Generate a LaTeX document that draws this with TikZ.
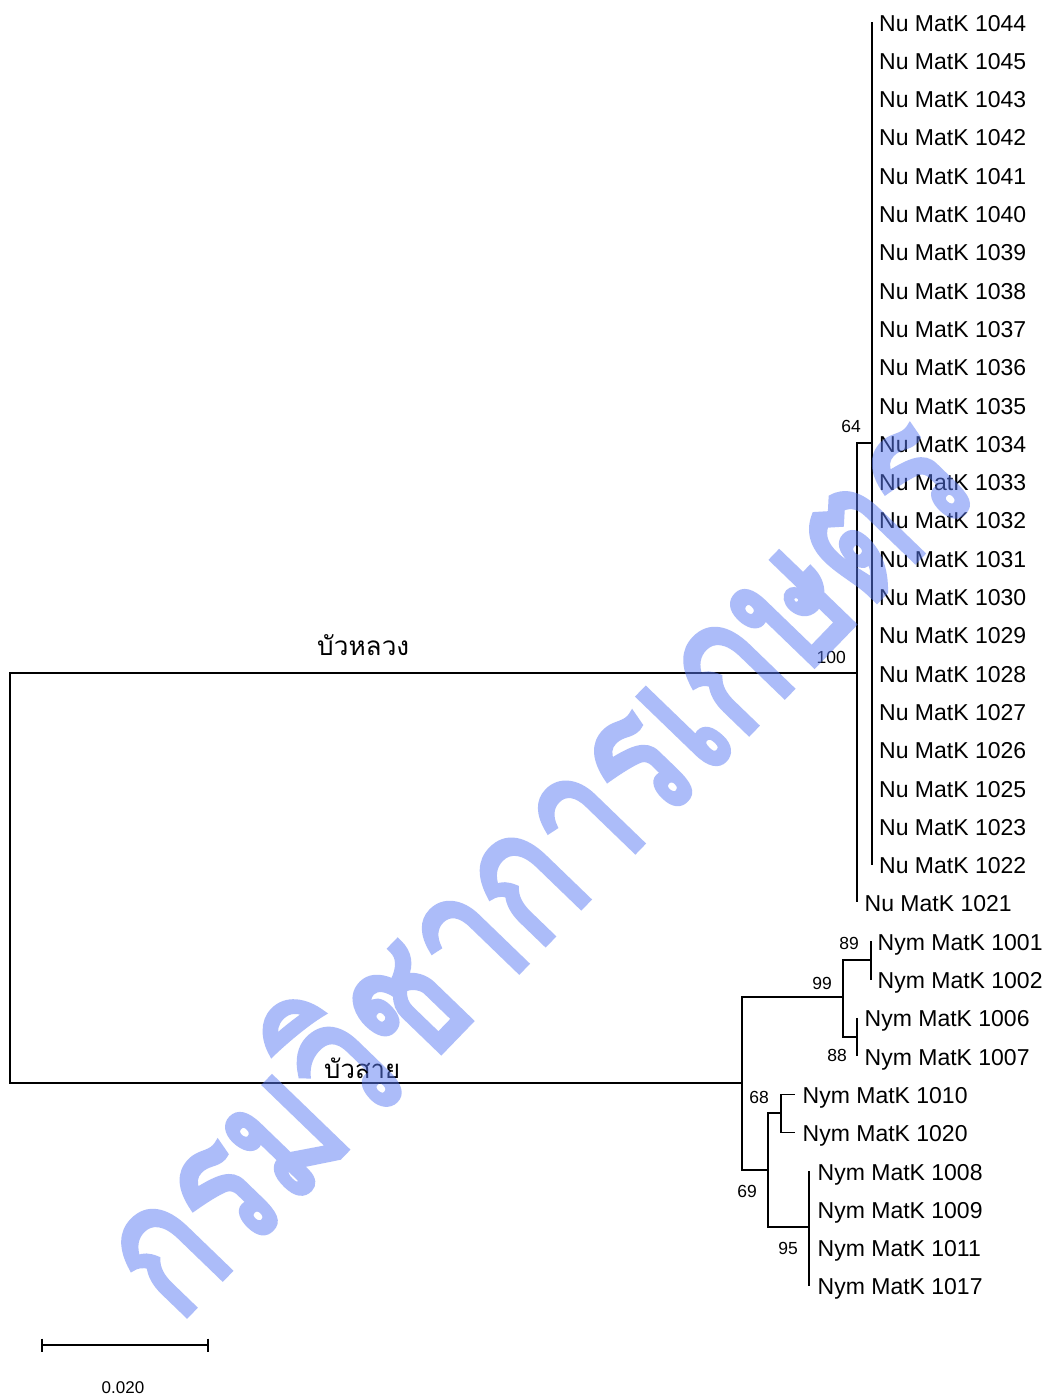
\documentclass[tikz,border=0pt]{standalone}
\usepackage{fontspec}
\usepackage{graphicx}
\setmainfont{Liberation Sans}
\newfontfamily\thaifont[Script=Thai]{Loma}
\newfontfamily\wmfont[Script=Thai,FakeBold=3]{Loma}
\definecolor{wmblue}{RGB}{90,122,244}
\tikzset{
  branch/.style={line width=1.4pt, black},
  thickbranch/.style={line width=2.3pt, black},
  leaf/.style={anchor=base west, inner sep=0pt, font=\fontsize{23}{23}\selectfont},
  boot/.style={anchor=base east, inner sep=0pt, font=\fontsize{17.5}{17.5}\selectfont},
  clade/.style={anchor=base west, inner sep=0pt},
}
\begin{document}
\begin{tikzpicture}[x=1pt,y=-1pt]
\useasboundingbox (0,0) rectangle (1048,1398);
\fill[white] (0,0) rectangle (1048,1398);
% leaves: Nu
\foreach \n [count=\i from 0] in {1044,1045,1043,1042,1041,1040,1039,1038,1037,1036,1035,1034,1033,1032,1031,1030,1029,1028,1027,1026,1025,1023,1022}{
  \coordinate (t\n) at (872,{22+38.3*\i});
  \node[leaf] (L\n) at (879,{31+38.3*\i}) {Nu MatK \n};
}
\coordinate (t1021) at (857,902);
\node[leaf] (L1021) at (864.5,{31+38.3*23}) {Nu MatK 1021};
% leaves: Nym
\foreach \n/\i/\tx/\lx in {1001/24/871/877.5,1002/25/871/877.5,1006/26/857/864.5,1007/27/857/864.5,1010/28/795/802.5,1020/29/795/802.5,1008/30/809/817.5,1009/31/809/817.5,1011/32/809/817.5,1017/33/809/817.5}{
  \coordinate (t\n) at (\tx,{22+38.3*\i});
  \node[leaf] (L\n) at (\lx,{31+38.3*\i}) {Nym MatK \n};
}
% internal nodes
\coordinate (root) at (10,878);
\coordinate (nNu) at (857,673);
\coordinate (nNuIn) at (872,443);
\coordinate (nNym) at (742,1083);
\coordinate (n99) at (843,997);
\coordinate (n89) at (871,960);
\coordinate (n88) at (857,1037);
\coordinate (n69) at (768,1170);
\coordinate (n68) at (781,1113);
\coordinate (n95) at (809,1227);
% branches
\draw[branch] (root) |- (nNu);
\draw[branch] (root) |- (nNym);
\draw[branch] (nNu) |- (nNuIn);
\draw[branch] (nNu) -- (t1021);
\draw[thickbranch] (t1044) -- (t1022);
\draw[branch] (nNym) |- (n99);
\draw[branch] (nNym) |- (n69);
\draw[branch] (n99) |- (n89);
\draw[branch] (n99) |- (n88);
\draw[branch] (t1001) -- (t1002);
\draw[branch] (t1006) -- (t1007);
\draw[branch] (n69) |- (n68);
\draw[branch] (n69) |- (n95);
\draw[branch] (n68) |- (t1010);
\draw[branch] (n68) |- (t1020);
\draw[branch] (t1008) -- (t1017);
% bootstrap values
\node[boot] (b64) at (861,432) {64};
\node[boot] (b100) at (846,663) {100};
\node[boot] (b89) at (859,949) {89};
\node[boot] (b99) at (832,989) {99};
\node[boot] (b88) at (847,1061) {88};
\node[boot] (b68) at (769,1103) {68};
\node[boot] (b69) at (757,1197) {69};
\node[boot] (b95) at (798,1254) {95};
% clade labels
\node[clade] (lotus) at (317,655) {\resizebox{92pt}{!}{\thaifont บัวหลวง}};
\node[clade] (waterlily) at (324,1078) {\resizebox{76pt}{!}{\thaifont บัวสาย}};
% scale bar
\coordinate (sbL) at (42,1345);
\coordinate (sbR) at (208,1345);
\draw[line width=1.4pt] (sbL) -- (sbR);
\draw[line width=1.4pt] (sbL) ++(0,-6.5) -- ++(0,13);
\draw[line width=1.4pt] (sbR) ++(0,-6.5) -- ++(0,13);
\node[anchor=base, inner sep=0pt, font=\fontsize{17}{17}\selectfont] (sblabel) at (123,1393) {0.020};
% watermark
\begin{scope}[transparency group, opacity=0.5]
\node[rotate=46, text=wmblue, inner sep=0pt] (wm) at (527,856) {\scalebox{1}[1.3]{\resizebox{1160pt}{!}{\wmfont กรมวิชาการเกษตร}}};
\end{scope}
\end{tikzpicture}
\end{document}
